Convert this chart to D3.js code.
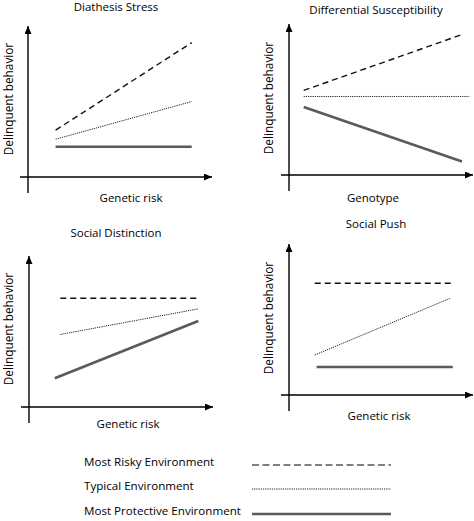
<!DOCTYPE html>
<html>
<head>
<meta charset="utf-8">
<script src="https://cdn.jsdelivr.net/npm/d3@7"></script>
<style>
  body { margin: 0; background: #fff; }
  text { font-family: "Open Sans", sans-serif; fill: #000; }
</style>
</head>
<body>
<div id="chart"></div>
<script>
// environments, in legend order
var environments = ["Most Risky Environment", "Typical Environment", "Most Protective Environment"];

var panelTitles = ["Diathesis Stress", "Differential Susceptibility", "Social Distinction", "Social Push"];
var xLabels = ["Genetic risk", "Genotype", "Genetic risk", "Genetic risk"];
var yLabel = "Delinquent behavior";

// each line: [x0, y0, x1, y1] on a 0-100 scale, order = risky, typical, protective
var diathesisStress = [[15, 31, 89, 89], [15, 25, 89, 50], [15, 20, 89, 20]];
var differentialSusceptibility = [[8, 56, 94, 93], [8, 52, 98, 52], [8, 45, 94, 9]];
var socialDistinction = [[17, 72, 92, 72], [17, 48, 92, 65], [14, 19, 92, 57]];
var socialPush = [[14, 74, 89, 74], [14, 26.5, 87.5, 64], [15, 18.5, 89, 18.5]];

var panelLines = [diathesisStress, differentialSusceptibility, socialDistinction, socialPush];

var width = 474, height = 521;

var svg = d3.select("#chart").append("svg")
    .attr("width", width)
    .attr("height", height);

svg.append("defs").append("marker")
    .attr("id", "arrow")
    .attr("markerUnits", "userSpaceOnUse")
    .attr("markerWidth", 9)
    .attr("markerHeight", 7)
    .attr("refX", 8)
    .attr("refY", 3.5)
    .attr("orient", "auto")
    .append("path")
    .attr("d", "M0,0L8,3.5L0,7Z")
    .attr("fill", "#000");

// line styles per environment
var styles = [
    { stroke: "#111", width: 1.4, dash: "6,4" },
    { stroke: "#222", width: 1, dash: "1.2,1" },
    { stroke: "#5a5a5a", width: 2.6, dash: null }
];

// panel layout: axis origin and title / label positions
var panels = [
    { ox: 28, oy: 177, titleY: 11, xlabX: 131, xlabY: 202, ylabX: 13, ylabY: 99 },
    { ox: 289, oy: 175, titleY: 14, xlabX: 373, xlabY: 202, ylabX: 273, ylabY: 98 },
    { ox: 29, oy: 407, titleY: 237, xlabX: 128, xlabY: 428, ylabX: 13, ylabY: 329 },
    { ox: 289, oy: 395, titleY: 228, xlabX: 379, xlabY: 420, ylabX: 273, ylabY: 318 }
];
var titleX = [116, 376, 116, 376];

var plotW = 184, plotH = 151;

panels.forEach(function (p, i) {
    var x = d3.scaleLinear().domain([0, 100]).range([p.ox, p.ox + plotW]);
    var y = d3.scaleLinear().domain([0, 100]).range([p.oy, p.oy - plotH]);

    var g = svg.append("g").attr("class", "panel");

    // axes with arrowheads
    g.append("line")
        .attr("x1", p.ox).attr("y1", p.oy + 16)
        .attr("x2", p.ox).attr("y2", y(100))
        .attr("stroke", "#000").attr("stroke-width", 1.4)
        .attr("marker-end", "url(#arrow)");
    g.append("line")
        .attr("x1", p.ox - 8).attr("y1", p.oy)
        .attr("x2", x(100)).attr("y2", p.oy)
        .attr("stroke", "#000").attr("stroke-width", 1.4)
        .attr("marker-end", "url(#arrow)");

    g.selectAll("line.env")
        .data(panelLines[i])
        .enter().append("line")
        .attr("class", "env")
        .attr("x1", function (d) { return x(d[0]); })
        .attr("y1", function (d) { return y(d[1]); })
        .attr("x2", function (d) { return x(d[2]); })
        .attr("y2", function (d) { return y(d[3]); })
        .attr("stroke", function (d, j) { return styles[j].stroke; })
        .attr("stroke-width", function (d, j) { return styles[j].width; })
        .attr("stroke-dasharray", function (d, j) { return styles[j].dash; });

    g.append("text")
        .attr("x", titleX[i]).attr("y", p.titleY)
        .attr("text-anchor", "middle")
        .style("font-size", "11.5px")
        .text(panelTitles[i]);

    g.append("text")
        .attr("x", p.xlabX).attr("y", p.xlabY)
        .attr("text-anchor", "middle")
        .style("font-size", "11.5px")
        .text(xLabels[i]);

    g.append("text")
        .attr("transform", "translate(" + p.ylabX + "," + p.ylabY + ") rotate(-90)")
        .attr("text-anchor", "middle")
        .style("font-size", "11.8px")
        .text(yLabel);
});

// legend
var legendY = [465, 489, 514];
var legend = svg.append("g").attr("class", "legend");

legend.selectAll("text")
    .data(environments)
    .enter().append("text")
    .attr("x", 84)
    .attr("y", function (d, i) { return legendY[i] + 0.5; })
    .style("font-size", "11.6px")
    .text(function (d) { return d; });

legend.selectAll("line")
    .data(environments)
    .enter().append("line")
    .attr("x1", 252).attr("x2", 391)
    .attr("y1", function (d, i) { return legendY[i]; })
    .attr("y2", function (d, i) { return legendY[i]; })
    .attr("stroke", function (d, i) { return i === 0 ? "#555" : styles[i].stroke; })
    .attr("stroke-width", function (d, i) { return i === 0 ? 1.3 : styles[i].width; })
    .attr("stroke-dasharray", function (d, i) { return i === 0 ? "7,3.5" : styles[i].dash; });
</script>
</body>
</html>
